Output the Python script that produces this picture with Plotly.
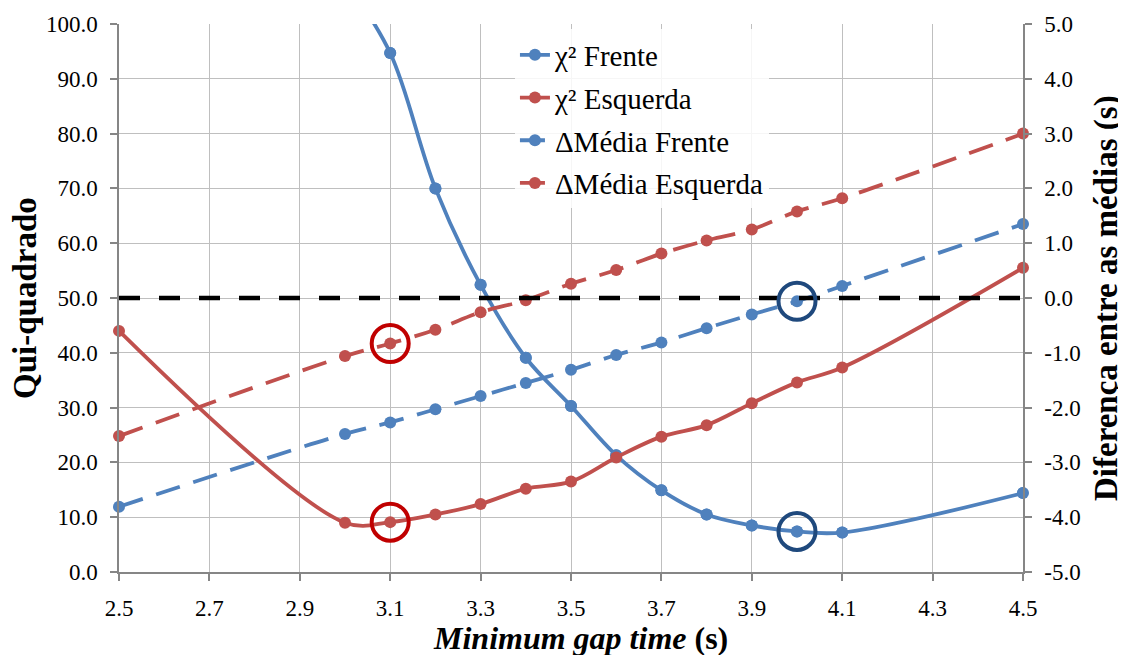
import plotly.graph_objects as go

# ---------------- data ----------------
gap_time = [2.5, 3.0, 3.1, 3.2, 3.3, 3.4, 3.5, 3.6, 3.7, 3.8, 3.9, 4.0, 4.1, 4.5]

chi2_frente = [None, 108.0, 94.7, 70.0, 52.4, 39.1, 30.3, 21.3, 14.9, 10.5, 8.5, 7.4, 7.2, 14.4]
chi2_esquerda = [44.0, 9.0, 9.1, 10.5, 12.4, 15.2, 16.5, 20.9, 24.7, 26.8, 30.8, 34.6, 37.3, 55.5]

dmedia_frente = [-3.81, -2.48, -2.27, -2.03, -1.79, -1.55, -1.31, -1.04, -0.81, -0.55, -0.30, -0.06, 0.22, 1.35]
dmedia_esquerda = [-2.52, -1.06, -0.83, -0.58, -0.26, -0.04, 0.26, 0.51, 0.81, 1.05, 1.25, 1.58, 1.82, 3.00]

reference_line_x = [2.5, 4.5]
reference_line_y = [0.0, 0.0]

# highlighted optimum points (gap time values)
opt_esquerda = 3.1
opt_frente = 4.0

x_tick_vals = [2.5, 2.7, 2.9, 3.1, 3.3, 3.5, 3.7, 3.9, 4.1, 4.3, 4.5]
x_tick_text = ["2.5", "2.7", "2.9", "3.1", "3.3", "3.5", "3.7", "3.9", "4.1", "4.3", "4.5"]
y_tick_vals = [0, 10, 20, 30, 40, 50, 60, 70, 80, 90, 100]
y_tick_text = ["0.0", "10.0", "20.0", "30.0", "40.0", "50.0", "60.0", "70.0", "80.0", "90.0", "100.0"]
y2_tick_vals = [-5, -4, -3, -2, -1, 0, 1, 2, 3, 4, 5]
y2_tick_text = ["-5.0", "-4.0", "-3.0", "-2.0", "-1.0", "0.0", "1.0", "2.0", "3.0", "4.0", "5.0"]

# ---------------- style ----------------
BLUE = "#4F81BD"
RED = "#C0504D"
RING_RED = "#C00000"
RING_BLUE = "#1F497D"
FONT = "Liberation Serif, Times New Roman, Tinos, serif"
GRID = "#BFBFBF"
AXIS = "#868686"
Y_MAX = 100
MS = 12
LW = 3.8
DASH = "25px,14px"

fig = go.Figure()

# chi2 Frente: line (clipped) + full markers for the points inside the range
fig.add_trace(go.Scatter(
    x=gap_time, y=chi2_frente, name="χ² Frente", mode="lines+markers",
    line=dict(color=BLUE, width=LW, shape="spline", smoothing=1.0),
    marker=dict(color=BLUE, size=MS),
    cliponaxis=True, connectgaps=True, legendgroup="cf", yaxis="y"))
cf_x = [x for x, v in zip(gap_time, chi2_frente) if v is not None and v <= Y_MAX]
cf_y = [v for v in chi2_frente if v is not None and v <= Y_MAX]
fig.add_trace(go.Scatter(
    x=cf_x, y=cf_y, mode="markers", showlegend=False, legendgroup="cf",
    marker=dict(color=BLUE, size=MS), cliponaxis=False, hoverinfo="skip", yaxis="y"))

fig.add_trace(go.Scatter(
    x=gap_time, y=chi2_esquerda, name="χ² Esquerda", mode="lines+markers",
    line=dict(color=RED, width=LW, shape="spline", smoothing=1.0),
    marker=dict(color=RED, size=MS),
    cliponaxis=False, yaxis="y"))

fig.add_trace(go.Scatter(
    x=gap_time, y=dmedia_frente, name="ΔMédia Frente", mode="lines+markers",
    line=dict(color=BLUE, width=LW, dash=DASH, shape="spline", smoothing=1.0),
    marker=dict(color=BLUE, size=MS),
    cliponaxis=False, yaxis="y2"))

fig.add_trace(go.Scatter(
    x=gap_time, y=dmedia_esquerda, name="ΔMédia Esquerda", mode="lines+markers",
    line=dict(color=RED, width=LW, dash=DASH, shape="spline", smoothing=1.0),
    marker=dict(color=RED, size=MS),
    cliponaxis=False, yaxis="y2"))

fig.add_trace(go.Scatter(
    x=reference_line_x, y=reference_line_y, mode="lines", showlegend=False,
    line=dict(color="black", width=4.5, dash="21px,19px"),
    hoverinfo="skip", yaxis="y2"))

# rings around the optimum points
ie = gap_time.index(opt_esquerda)
ifr = gap_time.index(opt_frente)
rings = [
    (opt_esquerda, chi2_esquerda[ie], RING_RED, "y"),
    (opt_frente, chi2_frente[ifr], RING_BLUE, "y"),
    (opt_esquerda, dmedia_esquerda[ie], RING_RED, "y2"),
    (opt_frente, dmedia_frente[ifr], RING_BLUE, "y2"),
]
for rx, ry, rc, ax in rings:
    fig.add_trace(go.Scatter(
        x=[rx], y=[ry], mode="markers", showlegend=False,
        marker=dict(symbol="circle-open", size=37, color=rc, line=dict(width=4, color=rc)),
        cliponaxis=False, hoverinfo="skip", yaxis=ax))

axis_common = dict(
    showline=True, linecolor=AXIS, linewidth=1.5,
    ticks="outside", ticklen=7, tickcolor=AXIS, tickwidth=1.5,
    zeroline=False,
    tickfont=dict(family=FONT, size=23, color="black"),
)

# page body has an 8px margin: plot area should sit at x 119..1023, y 24..572 on the page
fig.update_layout(
    width=1126, height=655,
    margin=dict(l=111, r=111, t=16, b=91, autoexpand=False),
    paper_bgcolor="white", plot_bgcolor="white",
    font=dict(family=FONT, color="black"),
    xaxis=dict(range=[2.5, 4.5], tickvals=x_tick_vals, ticktext=x_tick_text,
               showgrid=True, gridcolor=GRID, gridwidth=1.2, ticklabelstandoff=8, **axis_common),
    yaxis=dict(range=[0, 100], tickvals=y_tick_vals, ticktext=y_tick_text,
               showgrid=True, gridcolor=GRID, gridwidth=1.2, ticklabelstandoff=8, **axis_common),
    yaxis2=dict(range=[-5, 5], tickvals=y2_tick_vals, ticktext=y2_tick_text,
                overlaying="y", side="right", showgrid=False, ticklabelstandoff=8, **axis_common),
    legend=dict(x=0.438, y=0.99, xanchor="left", yanchor="top",
                bgcolor="rgba(255,255,255,0.85)", tracegroupgap=2,
                font=dict(family=FONT, size=29, color="black")),
    showlegend=True,
    annotations=[
        dict(text="<b>Qui-quadrado</b>", xref="paper", yref="paper",
             x=(25 - 119) / 904, y=0.5, xanchor="center", yanchor="middle",
             textangle=-90, showarrow=False, font=dict(family=FONT, size=33, color="black")),
        dict(text="<b>Diferença entre as médias (s)</b>", xref="paper", yref="paper",
             x=(1106 - 119) / 904, y=0.5, xanchor="center", yanchor="middle",
             textangle=-90, showarrow=False, font=dict(family=FONT, size=33, color="black")),
        dict(text="<b><i>Minimum gap time</i> (s)</b>", xref="paper", yref="paper",
             x=(580 - 119) / 904, y=(572 - 638) / 548, xanchor="center", yanchor="middle",
             showarrow=False, font=dict(family=FONT, size=32, color="black")),
    ],
)

fig.write_html("out.html", config={"displayModeBar": False})
